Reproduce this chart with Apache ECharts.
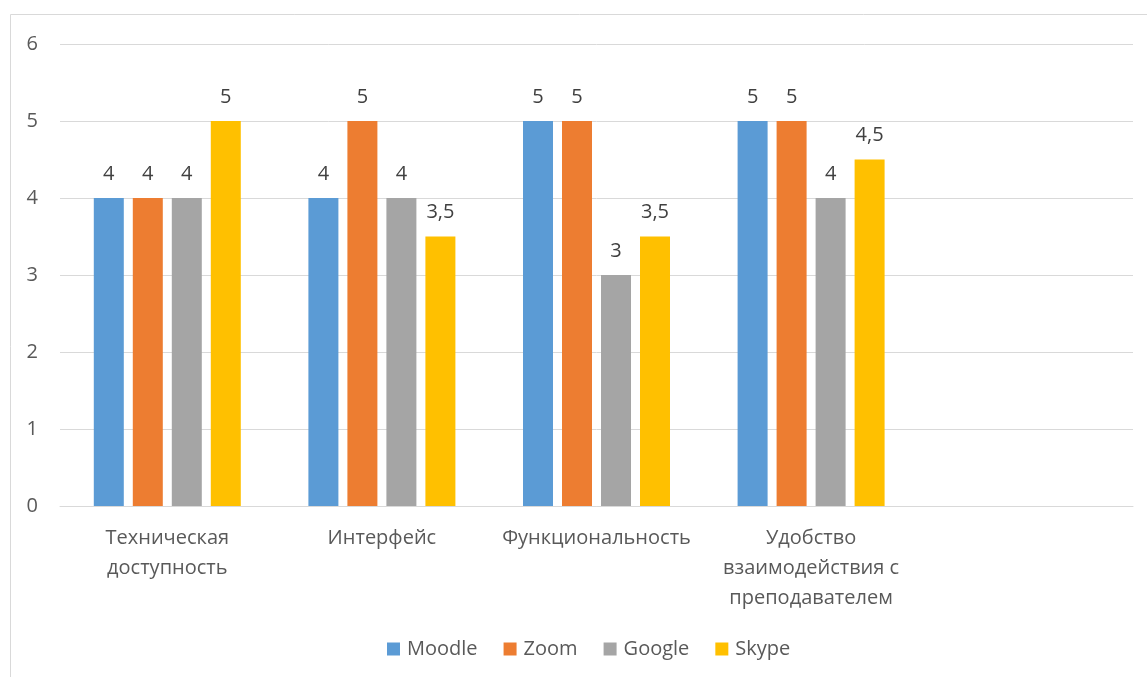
<!DOCTYPE html>
<html lang="ru">
<head>
    <meta charset="UTF-8">
    <title>Chart</title>
    <script src="https://cdn.jsdelivr.net/npm/echarts@6/dist/echarts.min.js"></script>
    <style>
        html, body { margin: 0; padding: 0; background: #fff; }
    </style>
</head>
<body>
    <div id="main" style="width: 1147px; height: 677px;"></div>
    <script type="text/javascript">
        var categories = ['Техническая\nдоступность', 'Интерфейс', 'Функциональность', 'Удобство\nвзаимодействия с\nпреподавателем', ''];
        var moodle = [4, 4, 5, 5, null];
        var zoom = [4, 5, 5, 5, null];
        var google = [4, 4, 3, 4, null];
        var skype = [5, 3.5, 3.5, 4.5, null];
        var colors = ['#5b9bd5', '#ed7d31', '#a5a5a5', '#ffc000'];
        var font = '"Open Sans", "Noto Sans", sans-serif';

        function makeSeries(name, data) {
            return {
                name: name,
                type: 'bar',
                data: data,
                barWidth: 30,
                barGap: '30%',
                label: {
                    show: true,
                    position: 'top',
                    distance: 14,
                    color: '#404040',
                    fontSize: 20,
                    fontFamily: font,
                    formatter: function (p) { return String(p.value).replace('.', ','); }
                }
            };
        }

        var myChart = echarts.init(document.getElementById('main'));
        var option = {
            color: colors,
            animation: false,
            textStyle: { fontFamily: font },
            graphic: [{
                type: 'rect',
                shape: { x: 10.5, y: 14.5, width: 1200, height: 700 },
                style: { fill: 'none', stroke: '#d9d9d9', lineWidth: 1 },
                silent: true
            }],
            grid: { left: 60, right: 14, top: 44, bottom: 171 },
            legend: {
                bottom: 13,
                left: 382,
                itemWidth: 13,
                itemHeight: 13,
                itemGap: 26,
                icon: 'rect',
                textStyle: { color: '#595959', fontSize: 20, fontFamily: font, padding: [0, 0, 0, 2] },
                data: ['Moodle', 'Zoom', 'Google', 'Skype']
            },
            xAxis: {
                type: 'category',
                data: categories,
                axisLine: { lineStyle: { color: '#d9d9d9', width: 1 } },
                axisTick: { show: false },
                axisLabel: {
                    color: '#595959',
                    fontSize: 20,
                    fontFamily: font,
                    lineHeight: 30,
                    margin: 17,
                    interval: 0
                }
            },
            yAxis: {
                type: 'value',
                min: 0,
                max: 6,
                interval: 1,
                axisLine: { show: false },
                axisTick: { show: false },
                splitLine: { lineStyle: { color: '#d9d9d9', width: 1 } },
                axisLabel: { color: '#595959', fontSize: 20, fontFamily: font, margin: 22 }
            },
            series: [
                makeSeries('Moodle', moodle),
                makeSeries('Zoom', zoom),
                makeSeries('Google', google),
                makeSeries('Skype', skype)
            ]
        };
        myChart.setOption(option);
    </script>
</body>
</html>
